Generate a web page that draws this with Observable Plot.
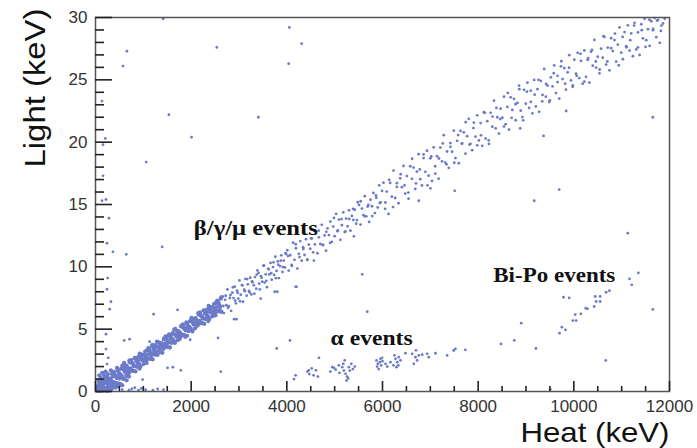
<!DOCTYPE html>
<html><head><meta charset="utf-8">
<script src="https://cdn.jsdelivr.net/npm/d3@7"></script>
<script src="https://cdn.jsdelivr.net/npm/@observablehq/plot@0.6"></script>
<style>body{margin:0;background:#fff;}</style>
</head><body><div id="chart"></div>
<script>
// [heat keV, light keV]
const betaDense = [[40,.41],[55,.1],[70,.29],[85,.13],[100,.77],[115,.08],[130,.54],[145,.08],[160,.42],[175,.86],[190,.3],[205,1.14],[220,.08],[235,.77],[250,.61],[265,1.05],[280,.29],[295,1.03],[310,.67],[325,.91],[340,.55],[355,1.39],[370,.73],[385,1.57],[400,1.36],[415,.7],[430,1.24],[445,1.08],[460,1.72],[475,.66],[490,1.5],[505,1.04],[520,1.38],[535,1.82],[550,1.26],[565,2.1],[580,1.04],[595,1.73],[610,1.57],[625,2.01],[640,1.25],[655,1.99],[670,1.63],[685,1.87],[700,1.51],[715,2.34],[730,1.68],[745,2.52],[760,2.31],[775,1.65],[790,2.19],[805,2.03],[820,2.67],[835,1.61],[850,2.45],[865,1.99],[880,2.33],[895,2.77],[910,2.21],[925,3.05],[940,1.99],[955,2.68],[970,2.52],[985,2.96],[1000,2.2],[1015,2.94],[1030,2.58],[1045,2.82],[1060,2.46],[1075,3.3],[1090,2.64],[1105,3.48],[1120,3.27],[1135,2.61],[1150,3.15],[1165,2.99],[1180,3.63],[1195,2.57],[1210,3.41],[1225,2.95],[1240,3.29],[1255,3.73],[1270,3.17],[1285,4.01],[1300,2.95],[1315,3.63],[1330,3.47],[1345,3.91],[1360,3.15],[1375,3.89],[1390,3.53],[1405,3.77],[1420,3.41],[1435,4.25],[1450,3.59],[1465,4.43],[1480,4.22],[1495,3.56],[1510,4.1],[1525,3.94],[1540,4.58],[1555,3.52],[1570,4.36],[1585,3.9],[1600,4.24],[1615,4.68],[1630,4.12],[1645,4.96],[1660,3.9],[1675,4.59],[1690,4.43],[1705,4.87],[1720,4.11],[1735,4.85],[1750,4.49],[1765,4.73],[1780,4.37],[1795,5.21],[1810,4.55],[1825,5.39],[1840,5.18],[1855,4.52],[1870,5.06],[1885,4.9],[1900,5.54],[1915,4.47],[1930,5.31],[1945,4.85],[1960,5.19],[1975,5.63],[1990,5.07],[2005,5.91],[2020,4.85],[2035,5.54],[2050,5.38],[2065,5.82],[2080,5.06],[2095,5.8],[2110,5.44],[2125,5.68],[2140,5.32],[2155,6.16],[2170,5.5],[2185,6.34],[2200,6.13],[2215,5.47],[2230,6.01],[2245,5.85],[2260,6.49],[2275,5.43],[2290,6.27],[2305,5.81],[2320,6.15],[2335,6.59],[2350,6.03],[2365,6.87],[2380,5.81],[2395,6.5],[2410,6.34],[2425,6.78],[2440,6.02],[2455,6.76],[2470,6.4],[2485,6.64],[2500,6.28],[2515,7.11],[2530,6.45],[2545,7.29],[2560,7.08],[2575,6.42],[2590,6.96],[2605,6.8],[2620,7.44],[2635,6.38],
[48,.06],[78,.66],[108,.05],[138,.42],[168,.8],[198,.17],[228,1.2],[258,.58],[288,.96],[318,.39],[348,1.42],[378,.75],[408,1.23],[438,.56],[468,1.64],[498,1.32],[528,1.2],[558,1.93],[588,1.01],[618,1.69],[648,2.07],[678,1.45],[708,2.48],[738,1.86],[768,2.24],[798,1.66],[828,2.69],[858,2.02],[888,2.5],[918,1.83],[948,2.91],[978,2.59],[1008,2.47],[1038,3.2],[1068,2.28],[1098,2.96],[1128,3.34],[1158,2.72],[1188,3.75],[1218,3.13],[1248,3.51],[1278,2.94],[1308,3.97],[1338,3.3],[1368,3.78],[1398,3.1],[1428,4.18],[1458,3.86],[1488,3.74],[1518,4.47],[1548,3.55],[1578,4.23],[1608,4.61],[1638,3.99],[1668,5.02],[1698,4.4],[1728,4.78],[1758,4.21],[1788,5.24],[1818,4.57],[1848,5.05],[1878,4.38],[1908,5.46],[1938,5.14],[1968,5.02],[1998,5.74],[2028,4.82],[2058,5.5],[2088,5.88],[2118,5.26],[2148,6.29],[2178,5.67],[2208,6.05],[2238,5.48],[2268,6.51],[2298,5.84],[2328,6.32],[2358,5.65],[2388,6.73],[2418,6.41],[2448,6.29],[2478,7.02],[2508,6.1],[2538,6.78],[2568,7.16],[2598,6.53],[2628,7.56],
[30,.3],[50,.05],[60,.9],[70,.5],[80,1.3],[90,.6],[100,.1],[110,1.1],[120,.2],[130,.7],[140,1.5],[150,.9],[160,.6],[170,.1],[180,1.3],[190,.15],[200,.7],[210,1.6],[230,.3],[240,1.0],[250,.05],[260,1.4],[270,.8],[280,.1],[300,.5],[320,1.7],[340,.2],[360,1.2],[380,.4],[420,.3],[450,1.9],[480,.4],[520,.6],[560,.5],[600,2.3],[650,.9],[700,1.2]];

const bottomRow = [[560,.15],[700,.1],[760,.2],[820,.3],[900,.1],[960,.25],[1050,.15],[1200,.1],[1300,.2],[1420,.15]];

const betaMid = [[2660,7.63],[2685,6.29],[2710,7.35],[2735,6.92],[2760,8.18],[2785,6.84],[2810,7.5],[2835,6.47],[2860,7.93],[2885,7.49],[2910,8.41],[2935,7.07],[2960,8.08],[2985,7.45],[3010,8.91],[3035,7.77],[3060,8.54],[3085,7.2],[3110,8.16],[3135,9.03],[3160,7.69],[3185,8.6],[3210,8.07],[3235,9.13],[3260,7.79],[3285,8.76],[3310,8.52],[3335,9.18],[3360,8.25],[3385,9.71],[3410,9.52],[3435,8.19],[3460,9.25],[3485,8.81],[3510,10.08],[3535,8.74],[3560,9.4],[3585,8.37],[3610,9.83],[3635,9.39],[3660,10.31],[3685,8.97],[3710,9.98],[3735,9.35],[3760,10.81],[3785,9.67],[3810,10.43],[3835,9.1],[3860,10.06],[3885,10.92],[3910,9.59],[3935,10.5],[3960,9.96],[3985,11.03],
[2672,6.86],[2722,7.68],[2772,6.71],[2822,7.74],[2872,8.36],[2922,7.29],[2972,7.92],[3022,7.24],[3072,8.52],[3122,8.05],[3172,9.02],[3222,7.95],[3272,8.83],[3322,7.85],[3372,9.38],[3422,8.65],[3472,9.13],[3522,10.11],[3572,8.88],[3622,9.81],[3672,9.49],[3722,10.36],[3772,9.09],[3822,10.17],[3872,10.49],[3922,9.97],[3972,11.1],
[4010,11.33],[4040,9.7],[4070,10.93],[4100,10.16],[4130,11.93],[4160,10.56],[4190,11.49],[4220,9.86],[4250,11.04],[4280,12.07],[4310,10.49],[4340,11.57],[4370,10.95],[4400,12.22],[4430,10.6],[4460,11.78],[4490,11.45],[4520,12.28],[4550,11.16],[4580,12.88],[4610,12.66],[4640,11.09],[4670,12.37],[4700,11.84],[4730,13.37],[4760,11.75],[4790,12.52],[4820,11.3],[4850,13.08],[4880,12.55],[4910,13.63],[4940,12.01],[4970,13.23],[5000,12.46],[5030,14.24],[5060,12.86],[5090,13.79],[5120,12.17],[5150,13.34],[5180,14.37],[5210,12.8],[5240,13.87],[5270,13.25],[5300,14.53],[5330,12.9],[5360,14.08],[5390,13.76],[5420,14.58],[5450,13.46],[5480,15.19],[5510,14.96],[5540,13.39],[5570,14.67],[5600,14.15],[5630,15.67],[5660,14.05],[5690,14.83],[5720,13.6],[5750,15.38],[5780,14.86],[5810,15.93],[5840,14.31],[5870,15.54],[5900,14.76],[5930,16.54],[5960,15.17],[5990,16.09],
[4025,10.86],[4105,10.07],[4185,11.82],[4265,10.78],[4345,11.43],[4425,10.54],[4505,12.29],[4585,11.8],[4665,12.9],[4745,11.76],[4825,12.81],[4905,11.92],[4985,13.92],[5065,12.93],[5145,13.83],[5225,12.84],[5305,13.84],[5385,14.65],[5465,13.75],[5545,15.26],[5625,14.06],[5705,14.96],[5785,14.07],[5865,15.72],[5945,15.13]];

const betaHigh = [[6020,16.75],[6055,14.65],[6090,16.04],[6125,14.24],[6160,16.73],[6195,15.63],[6230,17.72],[6265,15.52],[6300,16.41],[6335,15.1],[6370,17.1],[6405,16.39],[6440,18.09],[6475,15.88],[6510,17.28],[6545,15.47],[6580,18.07],[6615,17.06],[6650,17.96],[6685,16.25],[6720,17.64],[6755,19.04],[6790,17.03],[6825,16.53],[6860,18.72],[6895,17.62],[6930,19.31],[6965,17.31],[7000,18.7],[7035,16.89],[7070,19.59],[7105,17.48],[7140,18.88],[7175,17.07],[7210,19.57],[7245,18.46],[7280,20.56],[7315,18.35],[7350,19.25],[7385,17.94],[7420,19.93],[7455,19.23],[7490,20.92],[7525,18.72],[7560,20.11],[7595,18.31],[7630,20.9],[7665,19.9],[7700,20.79],[7735,19.08],[7770,20.48],[7805,21.87],[7840,19.87],[7875,19.36],[7910,21.56],[7945,20.45],[7980,22.15],[8015,20.14],[8050,21.53],[8085,19.71],[8120,22.4],[8155,20.29],[8190,21.68],[8225,19.86],[8260,22.35],[8295,21.24],[8330,23.33],[8365,21.11],[8400,22.0],[8435,20.69],[8470,22.68],[8505,21.96],[8540,23.65],[8575,21.44],[8610,22.83],[8645,21.01],[8680,23.6],[8715,22.59],[8750,23.48],[8785,21.76],[8820,23.15],[8855,24.54],[8890,22.53],[8925,22.01],[8960,24.2],[8995,23.09],[9030,24.77],[9065,22.75],[9100,24.13],[9135,22.31],[9170,24.99],[9205,22.87],[9240,24.25],[9275,22.43],[9310,24.91],[9345,23.79],[9380,25.87],[9415,23.65],[9450,24.54],[9485,23.22],[9520,25.2],[9555,24.48],[9590,26.16],[9625,23.94],[9660,25.32],[9695,23.5],[9730,26.08],[9765,25.06],[9800,25.94],[9835,24.22],[9870,25.6],[9905,26.98],[9940,24.96],[9975,24.44],[10010,26.62],[10045,25.49],[10080,27.17],[10115,25.14],[10150,26.52],[10185,24.69],[10220,27.36],[10255,25.24],[10290,26.61],[10325,24.78],[10360,27.26],[10395,26.13],[10430,28.2],[10465,25.98],[10500,26.85],[10535,25.52],[10570,27.5],[10605,26.77],[10640,28.44],[10675,26.22],[10710,27.59],[10745,25.76],[10780,28.34],[10815,27.31],[10850,28.19],[10885,26.46],[10920,27.83],[10955,29.21],[10990,27.18],[11025,26.65],[11060,28.83],[11095,27.7],[11130,29.37],[11165,27.35],[11200,28.72],[11235,26.89],[11270,29.57],[11305,27.44],[11340,28.81],[11375,26.99],[11410,29.46],[11445,28.33],[11480,29.9],[11515,28.18],[11550,29.06],[11585,27.73],[11620,29.7],[11655,28.98],[11690,29.95],[11725,28.42],[11760,29.8],[11795,27.97],[11830,29.35],[11865,29.52],
[6060,15.16],[6140,16.98],[6220,14.79],[6300,16.71],[6380,17.43],[6460,16.54],[6540,15.96],[6620,18.67],[6700,16.69],[6780,17.81],[6860,19.02],[6940,16.54],[7020,18.85],[7100,18.07],[7180,18.69],[7260,19.9],[7340,18.22],[7420,19.63],[7500,18.35],[7580,20.57],[7660,19.88],[7740,21.6],[7820,19.81],[7900,21.13],[7980,19.75],[8060,20.55],[8140,22.35],[8220,20.15],[8300,22.05],[8380,22.75],[8460,21.85],[8540,21.25],[8620,23.95],[8700,21.95],[8780,23.05],[8860,24.25],[8940,21.75],[9020,24.05],[9100,23.23],[9180,23.81],[9260,25.0],[9340,23.28],[9420,24.67],[9500,23.35],[9580,25.53],[9660,24.82],[9740,26.5],[9820,24.69],[9900,25.97],[9980,24.55],[10060,25.33],[10140,27.09],[10220,24.86],[10300,26.73],[10380,27.4],[10460,26.47],[10540,25.83],[10620,28.5],[10700,26.47],[10780,27.54],[10860,28.71],[10940,26.17],[11020,28.44],[11100,27.61],[11180,28.18],[11260,29.35],[11340,27.61],[11420,28.98],[11500,27.65],[11580,29.82],[11660,29.09],[11740,29.75],[11820,28.92],[11900,29.89]];

const betaStray = [[7510,16.1],[9172,15.3],[9694,16.2],[9367,20.5],[8880,21.1],[7002,16.3],[6758,15.3],[9840,22.5],[3746,8.0],[4184,8.4],[3454,7.45],[2897,5.8],[4205,8.4],[3803,8.0],[4566,10.5],[5576,9.4]];

const alphaEvents = [[4149,1.0],[4184,1.3],[4456,1.7],[4950,1.95],[4984,1.9],[5088,2.1],[5158,1.95],[5193,1.68],[5228,1.42],[5179,2.22],[5297,1.95],[5347,2.22],[5249,0.88],[5318,1.68],[5875,2.49],[5902,2.22],[5944,2.35],[5973,2.09],[5889,2.0],[6000,2.43],[5958,2.62],[6063,2.22],[6167,2.35],[6271,2.62],[6307,2.35],[6340,2.75],[6376,2.49],[6292,1.95],[6480,3.07],[6620,3.02],[6689,2.75],[6724,2.49],[6654,2.22],[6758,2.89],[6933,3.02],[6967,2.75],[7106,3.07],[7351,2.89],[7489,3.29],[7524,3.42],[7732,3.34],
[4430,1.6],[4470,1.4],[4520,1.85],[4560,1.3],[4610,1.7],[4650,1.2],[4671,2.7],[4910,1.6],[5020,1.75],[5100,1.5],[5210,2.5],[5260,1.2],[5380,1.8],[5420,2.0],[5920,1.8],[5990,2.7],[6100,2.0],[6230,2.1],[6250,2.9],[6330,2.1],[6700,3.3],[6830,2.95],[5280,1.05],
[8477,3.82],[8755,4.1],[9207,3.45],[10668,2.49],[9506,0.16]];

const biPoEvents = [[11128,12.7],[11162,9.04],[11211,8.56],[11349,9.52],[11650,6.58],[10744,8.08],[10675,7.96],[10550,7.62],[10446,7.62],[10550,7.22],[10467,7.22],[10425,6.82],[10285,6.63],[10251,6.68],[10147,6.23],[10028,6.17],[10049,5.69],[9980,5.69],[9784,7.56],[9903,7.51],[9750,5.16],[9826,4.95],[9701,4.68],[8901,5.48]];

const strayEvents = [[1415,29.9],[657,27.3],[574,26.1],[2536,27.6],[4053,29.2],[4310,27.9],[4038,26.3],[1534,22.2],[3405,22.0],[2007,20.4],[1060,18.4],[11650,22.0],[5401,12.45],[5681,6.4],[1394,11.6],[1215,6.2],[1715,6.55],[2563,4.3],[2947,5.8],[3788,3.45],[4066,4.1],[1507,1.9],[1617,1.95],[1784,1.7],[2619,1.6],[985,0.96],[601,4.1],[713,4.2],[643,11.0],[365,11.2],[240,11.9],[1131,4.0],[1979,4.15],
[136,23.3],[205,20.3],[157,19.8],[157,17.3],[219,15.4],[136,15.3],[282,13.9],[254,9.1],[240,8.2],[323,7.2],[296,6.6],[219,4.6],[219,3.4],[267,2.7],[240,2.2],[184,1.55]];

const xMajor = [0, 2000, 4000, 6000, 8000, 10000, 12000];
const xMinor = [500,1000,1500,2500,3000,3500,4500,5000,5500,6500,7000,7500,8500,9000,9500,10500,11000,11500];
const yMajor = [0, 5, 10, 15, 20, 25, 30];
const yMinor = [1,2,3,4,6,7,8,9,11,12,13,14,16,17,18,19,21,22,23,24,26,27,28,29];

const labelText = ["β/γ/μ events", "α events", "Bi-Po events"];
const labelHeat = [2056, 4915, 8316];
const labelLight = [12.55, 3.69, 8.82];
const labels = labelText.map((t, i) => ({t, x: labelHeat[i], y: labelLight[i]}));

// layout
const W = 697, H = 448, mL = 95, mR = 28, mT = 17, mB = 57;
const plotW = W - mL - mR, plotH = H - mT - mB;
const blue = "#6b7bc8";
const sparse = [...bottomRow, ...betaMid, ...betaHigh, ...betaStray, ...alphaEvents, ...biPoEvents, ...strayEvents];

const chart = Plot.plot({
  width: W, height: H,
  marginLeft: mL, marginRight: mR, marginTop: mT, marginBottom: mB,
  style: {background: "#fff", fontFamily: "'Liberation Sans', Arial, sans-serif", color: "#222"},
  x: {domain: [0, 12000]},
  y: {domain: [0, 30]},
  marks: [
    Plot.dot(betaDense, {x: d => d[0], y: d => d[1], r: 2.1, fill: blue}),
    Plot.dot(sparse, {x: d => d[0], y: d => d[1], r: 1.4, fill: blue}),
    Plot.frame({stroke: "#555", strokeWidth: 1.5}),
    Plot.axisY({ticks: yMajor, tickSize: 0, tickPadding: 8, fontSize: 17, label: null, fill: "#333", tickFormat: d3.format("d")}),
    Plot.axisX({ticks: xMajor, tickSize: 0, tickPadding: 8, fontSize: 17, label: null, fill: "#333", tickFormat: d3.format("d")}),
    Plot.text(labels, {x: "x", y: "y", text: "t", textAnchor: "start", lineAnchor: "bottom", fontSize: 21, fontWeight: "bold", fontFamily: "'Liberation Serif', 'Times New Roman', serif", fill: "#111"}),
    Plot.text(["Heat (keV)"], {text: d => d, frameAnchor: "bottom-right", textAnchor: "end", lineAnchor: "bottom", dy: 50, fontSize: 28, fill: "#111"}),
    Plot.text(["Light (keV)"], {text: d => d, frameAnchor: "top-left", rotate: -90, textAnchor: "end", lineAnchor: "bottom", dx: -51, dy: -9, fontSize: 29, fill: "#111"}),
    Plot.tickY(yMajor, {y: d => d, insetRight: plotW - 17, stroke: "#222", strokeWidth: 1.6}),
    Plot.tickY(yMinor, {y: d => d, insetRight: plotW - 9, stroke: "#222", strokeWidth: 1.6}),
    Plot.tickX(xMajor, {x: d => d, insetTop: plotH - 10, stroke: "#222", strokeWidth: 1.6}),
    Plot.tickX(xMinor, {x: d => d, insetTop: plotH - 5, stroke: "#222", strokeWidth: 1.6})
  ]
});
document.getElementById("chart").append(chart);

const stretch = {"β/γ/μ events": 124, "α events": 82, "Bi-Po events": 122, "Heat (keV)": 149, "Light (keV)": 159};
chart.querySelectorAll("text").forEach(t => {
  const w = stretch[t.textContent];
  if (w) { t.setAttribute("textLength", w); t.setAttribute("lengthAdjust", "spacingAndGlyphs"); }
});
</script></body></html>
